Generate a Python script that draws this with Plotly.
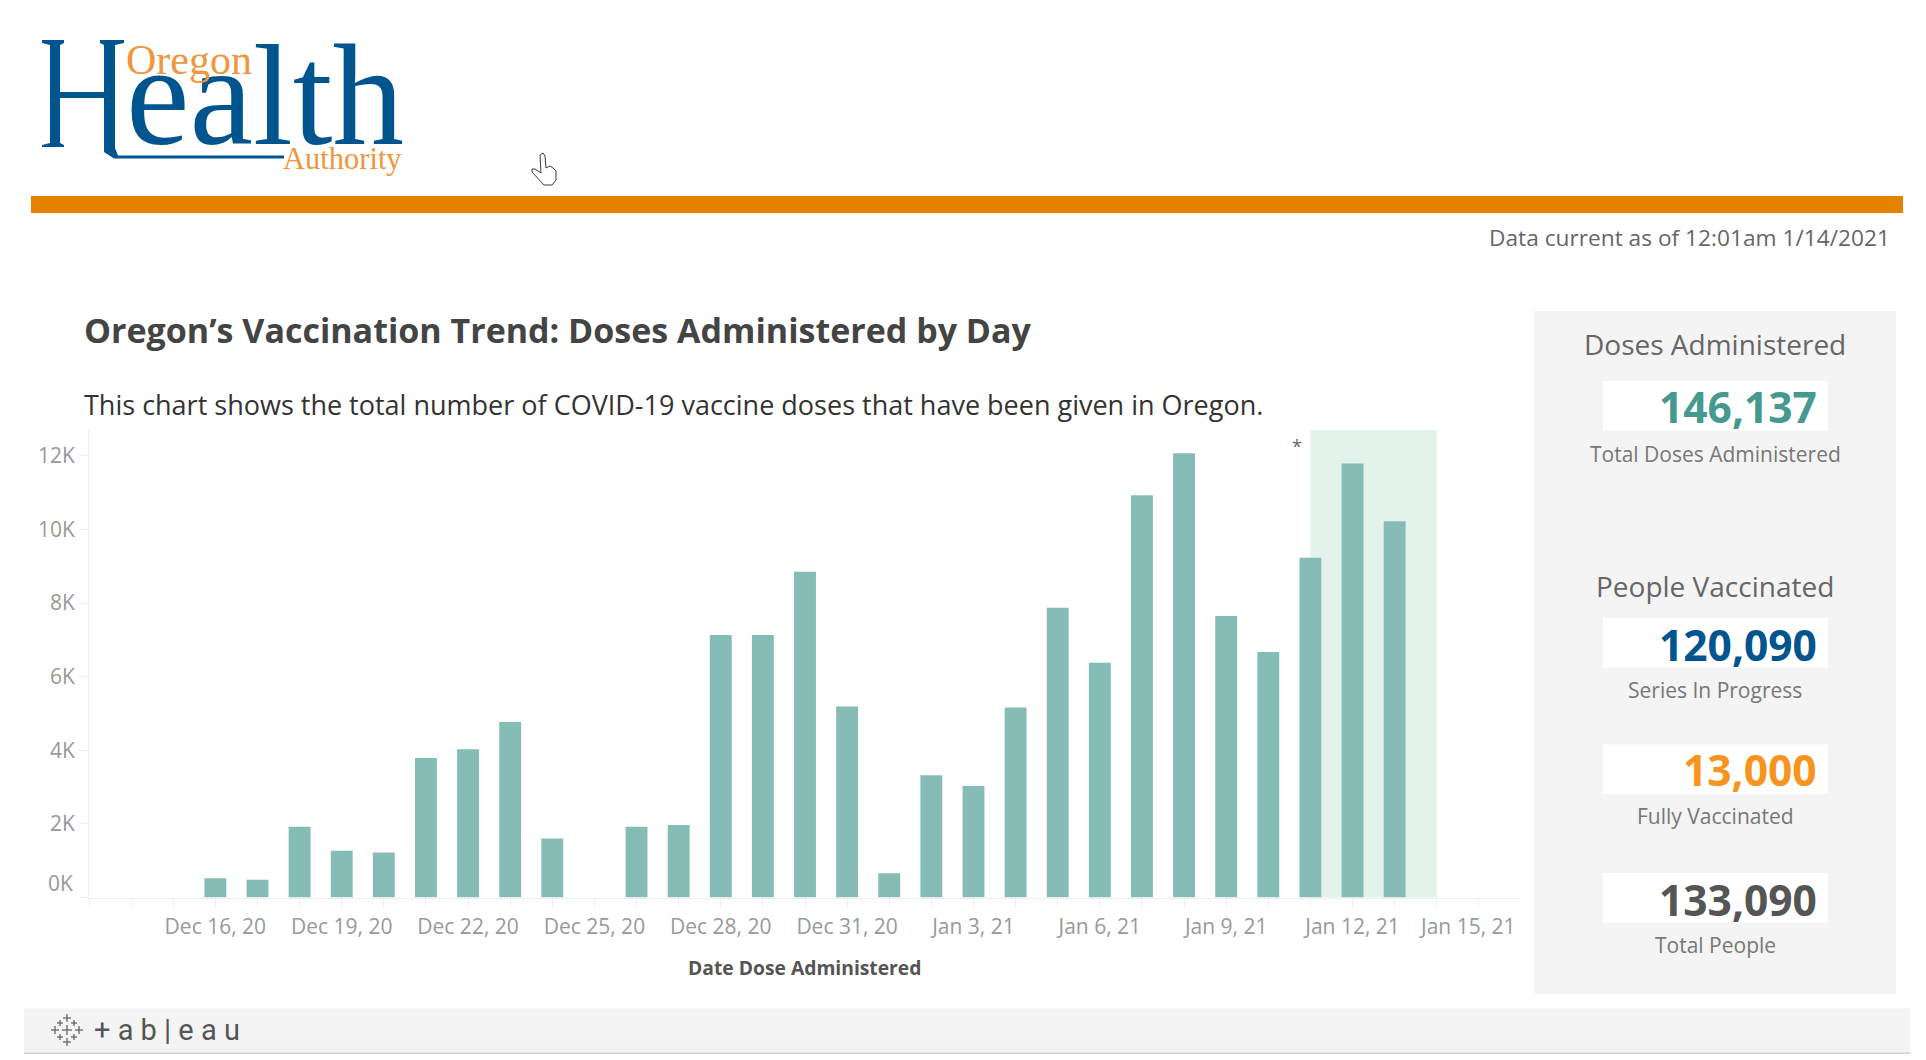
import plotly.graph_objects as go

dates = ["2020-12-16","2020-12-17","2020-12-18","2020-12-19","2020-12-20","2020-12-21","2020-12-22","2020-12-23","2020-12-24",
         "2020-12-26","2020-12-27","2020-12-28","2020-12-29","2020-12-30","2020-12-31","2021-01-01","2021-01-02","2021-01-03",
         "2021-01-04","2021-01-05","2021-01-06","2021-01-07","2021-01-08","2021-01-09","2021-01-10","2021-01-11","2021-01-12","2021-01-13"]
doses = [520,480,1920,1270,1220,3790,4030,4770,1600,
         1920,1970,7130,7130,8850,5190,660,3320,3030,
         5160,7870,6380,10930,12070,7650,6670,9230,11790,10220]

x_ticks = ["2020-12-13","2020-12-14","2020-12-15","2020-12-16","2020-12-17","2020-12-18","2020-12-19","2020-12-20","2020-12-21",
           "2020-12-22","2020-12-23","2020-12-24","2020-12-25","2020-12-26","2020-12-27","2020-12-28","2020-12-29","2020-12-30",
           "2020-12-31","2021-01-01","2021-01-02","2021-01-03","2021-01-04","2021-01-05","2021-01-06","2021-01-07","2021-01-08",
           "2021-01-09","2021-01-10","2021-01-11","2021-01-12","2021-01-13","2021-01-14","2021-01-15"]
x_labels = ["","","","Dec 16, 20","","","Dec 19, 20","","","Dec 22, 20","","","Dec 25, 20","","","Dec 28, 20","","",
            "Dec 31, 20","","","Jan 3, 21","","","Jan 6, 21","","","Jan 9, 21","","","Jan 12, 21","","",""]
last_x_label = "Jan 15, 21"
y_ticks = [0,2000,4000,6000,8000,10000,12000]
y_labels = ["","2K","4K","6K","8K","10K","12K"]

kpi_values = ["146,137","120,090","13,000","133,090"]
kpi_labels = ["Total Doses Administered","Series In Progress","Fully Vaccinated","Total People"]
kpi_colors = ["#45998f","#00558f","#f7941d","#555555"]

W, H, OFF = 1910, 1046, 8
FONT = "Open Sans"
def X(p): return (p-OFF)/W
def Y(p): return 1-(p-OFF)/H

shapes, ann = [], []
def rect(x0,y0,x1,y1,c):
    shapes.append(dict(type="rect",xref="paper",yref="paper",x0=X(x0),x1=X(x1),y0=Y(y0),y1=Y(y1),
                       fillcolor=c,line_width=0,layer="below"))
def path(pts,c=None,lc=None,lw=0,close=True):
    d="M"+" L".join(f"{X(a):.5f},{Y(b):.5f}" for a,b in pts)+(" Z" if close else "")
    shapes.append(dict(type="path",xref="paper",yref="paper",path=d,fillcolor=c if c else "rgba(0,0,0,0)",
                       line=dict(color=lc if lc else "rgba(0,0,0,0)",width=lw),layer="above"))
def text(s,x,y,size,color,anchor="left",family=FONT,bold=False):
    ann.append(dict(text=f"<b>{s}</b>" if bold else s,xref="paper",yref="paper",x=X(x),y=Y(y),xanchor=anchor,yanchor="middle",
                    showarrow=False,font=dict(family=family,size=size,color=color)))

# header
rect(31,196,1903,213,"#e58200")
BLUE,ORG="#00558f","#f0963c"
path([(42,40),(64,40),(64,43),(60,45),(60,92),(104,92),(104,45),(100,43),(100,40),(124,40),(124,43),(115,45),(115,148),(118,155.5),(284,155.5),(284,158.5),(114,158.5),(104,152),(104,98),(60,98),(60,143),(64,145),(64,147),(42,147),(42,145),(50,143),(50,45),(42,43)],c=BLUE)
text("ealth",124,96,143,BLUE,family="Liberation Serif")
text("Oregon",124,60,42,ORG,family="Liberation Serif")
text("Authority",281,159,30.5,ORG,family="Liberation Serif")
path([(540,155),(543,153),(545,156),(546,168),(550,166),(553,168),(556,171),(556,180),(552,185),(544,185),(532,172),(532,169),(535,169),(541,173)],c="#ffffff",lc="#333a48",lw=1)

text("Data current as of 12:01am 1/14/2021",1892,237.5,22.7,"#666666",anchor="right")
text("Oregon’s Vaccination Trend: Doses Administered by Day",81.5,330.5,34,"#444444",bold=True)
text("This chart shows the total number of COVID-19 vaccine doses that have been given in Oregon.",81.5,404.5,27,"#333333")

# panel
rect(1534,311,1896,994,"#f4f4f4")
text("Doses Administered",1715,344,28,"#666666",anchor="center")
text("People Vaccinated",1715,586,28,"#666666",anchor="center")
box_tops = [381,618,744.5,873]
val_y = [407,644,769.5,899]
lab_y = [454,690,816,945]
for val,lab,col,top,vy,ly in zip(kpi_values,kpi_labels,kpi_colors,box_tops,val_y,lab_y):
    rect(1603,top,1828,top+49.5,"#ffffff")
    text(val,1819,vy,42.5,col,anchor="right",bold=True)
    text(lab,1715,ly,21,"#777777",anchor="center")

# toolbar
rect(24,1008.6,1910,1052.5,"#f4f4f4")
rect(24,1052.5,1910,1054,"#cfcfcf")
text("+ a b | e a u",92,1030,29,"#555555",family="Roboto")
ICX,ICY=67,1030
for dx,dy,r in [(0,-12,4),(0,12,4),(-12,0,4),(12,0,4),(-7,-7,3),(7,-7,3),(-7,7,3),(7,7,3),(0,0,5)]:
    path([(ICX+dx-r,ICY+dy),(ICX+dx+r,ICY+dy)],lc="#666666",lw=1.3,close=False)
    path([(ICX+dx,ICY+dy-r),(ICX+dx,ICY+dy+r)],lc="#666666",lw=1.3,close=False)

text("Date Dose Administered",804,967,19.3,"#555555",anchor="center",bold=True)
text("*",1297,446,18,"#666666",anchor="center")
text(last_x_label,1467,926,21,"#999999",anchor="center")

shapes.append(dict(type="rect",xref="x",yref="y domain",x0="2021-01-11",x1="2021-01-14",y0=0,y1=1,
                   fillcolor="#e3f2eb",line_width=0,layer="below"))
ann.append(dict(text="0K",xref="paper",yref="y",x=X(75),y=0,xanchor="right",yanchor="middle",yshift=15,showarrow=False,
                font=dict(family=FONT,size=21,color="#999999")))

fig = go.Figure(go.Bar(x=dates,y=doses,marker=dict(color="#86bcb6",line_width=0),width=0.52*86400000,showlegend=False))
fig.update_layout(width=W,height=H,autosize=False,margin=dict(l=0,r=0,t=0,b=0),paper_bgcolor="white",plot_bgcolor="white",
                  shapes=shapes,annotations=ann,showlegend=False,font=dict(family=FONT))
fig.update_xaxes(type="date",domain=[X(89),X(1521)],range=["2020-12-13","2021-01-16"],tickmode="array",tickvals=x_ticks,ticktext=x_labels,
                 ticks="outside",ticklen=8,tickcolor="#eeeeee",ticklabelstandoff=2,showgrid=False,showline=True,linecolor="#eeeeee",zeroline=False,
                 tickfont=dict(family=FONT,size=21,color="#999999"),tickangle=0)
fig.update_yaxes(domain=[Y(897.5),Y(430)],range=[0,12700],tickmode="array",tickvals=y_ticks,ticktext=y_labels,
                 ticks="outside",ticklen=9,tickcolor="#eeeeee",showgrid=False,showline=True,linecolor="#f0f0f0",zeroline=False,
                 tickfont=dict(family=FONT,size=21,color="#999999"))
fig.write_html("out.html")
